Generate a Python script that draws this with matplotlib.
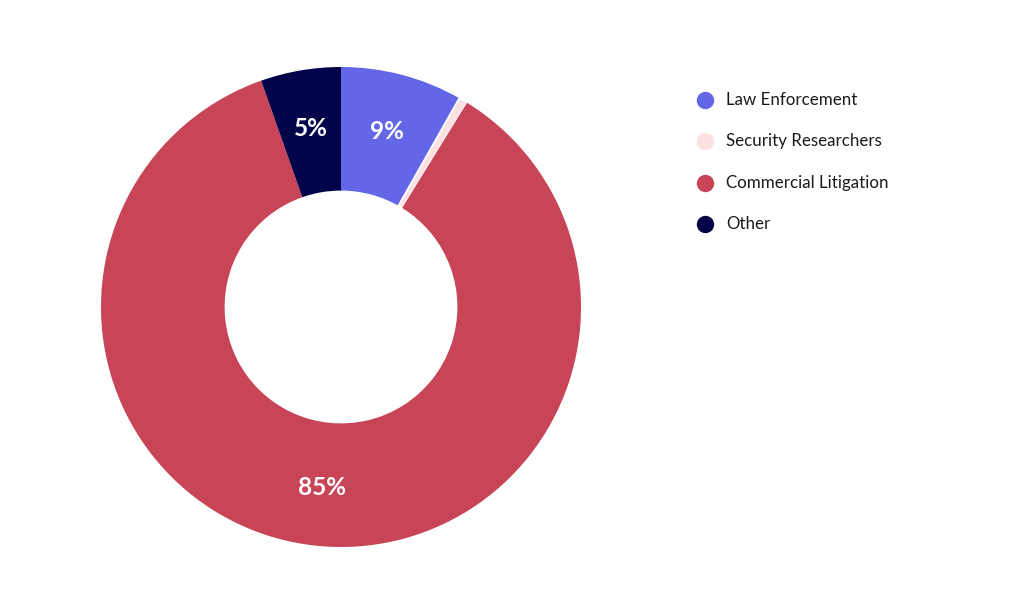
import numpy as np
import matplotlib.pyplot as plt
from matplotlib.lines import Line2D

# ============================================================
# Data (read off the reference donut)
# ============================================================
categories = ["Law Enforcement", "Security Researchers", "Commercial Litigation", "Other"]
shares = [8.2, 0.6, 85.8, 5.4]
pct_labels = ["9%", "", "85%", "5%"]
colors = ["#6366E6", "#FCE0E2", "#C84457", "#03044A"]

plt.rcParams["font.family"] = ["Lato", "DejaVu Sans"]

W, H = 1024, 614
fig = plt.figure(figsize=(W / 100, H / 100), dpi=100)

# donut axes: centre (341, 307) px, outer radius 240 px
cx, cy, R = 341, 307, 240
ax = fig.add_axes([(cx - R) / W, (H - cy - R) / H, 2 * R / W, 2 * R / H])

ring = 0.515
wedges, _ = ax.pie(shares, colors=colors, startangle=90, counterclock=False,
                   radius=1, wedgeprops=dict(width=ring, linewidth=0))
# thin white rims only around the tiny slice
wedges[1].set_edgecolor("white")
wedges[1].set_linewidth(1.2)

ax.set_xlim(-1, 1)
ax.set_ylim(-1, 1)
ax.set_aspect("equal")
ax.axis("off")

# percentage labels in the middle of the ring
r_lab = 0.755
for w, lab in zip(wedges, pct_labels):
    if not lab:
        continue
    mid = np.deg2rad((w.theta1 + w.theta2) / 2)
    ax.text(r_lab * np.cos(mid), r_lab * np.sin(mid), lab, ha="center", va="center",
            color="white", fontsize=17.5, fontweight="bold")

# ============================================================
# Legend (drawn by hand to match spacing)
# ============================================================
for i, (name, col) in enumerate(zip(categories, colors)):
    y = 1 - (100 + i * 41.3) / H
    fig.add_artist(Line2D([705 / W], [y], marker="o", markersize=11.5, color=col,
                          linestyle="none", transform=fig.transFigure))
    fig.text(726 / W, y, name, ha="left", va="center", fontsize=12.2, color="#1a1a1a")

plt.savefig("out.png", dpi=100)
